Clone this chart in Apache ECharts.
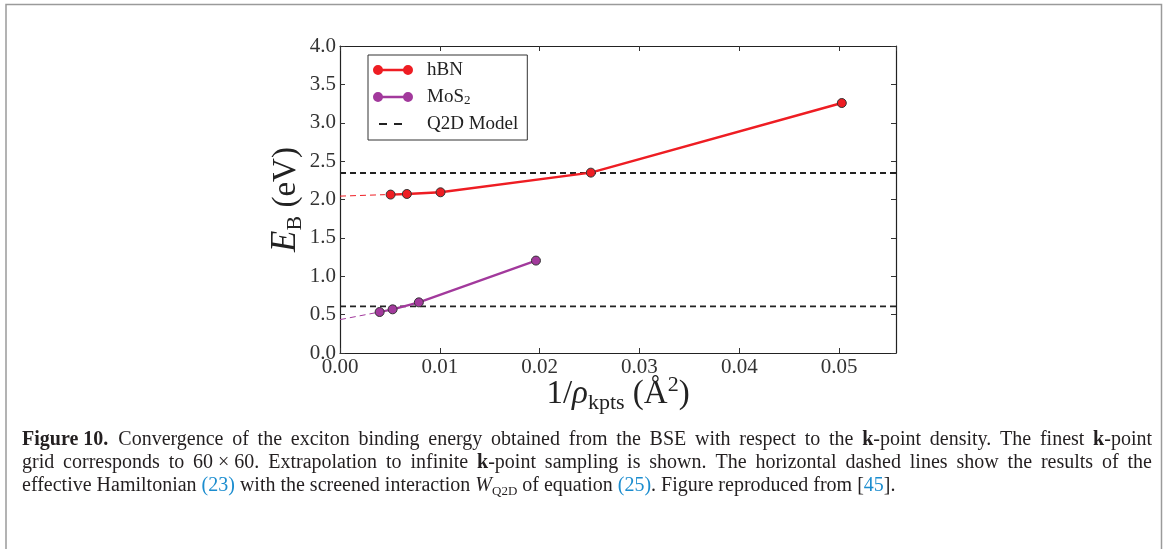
<!DOCTYPE html>
<html lang="en">
<head>
    <meta charset="UTF-8">
    <title>Figure 10</title>
    <style>
        html, body { margin: 0; padding: 0; background: #fff; }
        #main { width: 1168px; height: 549px; }
    </style>
</head>
<body>
<div id="main"></div>
<script src="https://cdn.jsdelivr.net/npm/echarts@6/dist/echarts.min.js"></script>
<script>
    // data
    const hbnX = [0.00507, 0.0067, 0.01007, 0.02513, 0.05027];
    const hbnY = [2.064, 2.072, 2.094, 2.350, 3.257];
    const mos2X = [0.00397, 0.00527, 0.0079, 0.01963];
    const mos2Y = [0.534, 0.569, 0.660, 1.204];
    // extrapolation to infinite k-point sampling
    const hbnFitX = [0, 0.0045];
    const hbnFitY = [2.044, 2.063];
    const mos2FitX = [0, 0.0036];
    const mos2FitY = [0.435, 0.525];
    // Q2D model levels
    const q2dX = [0, 0.0557];
    const q2dHbn = 2.345;
    const q2dMos2 = 0.608;

    const xTicks = [0, 0.01, 0.02, 0.03, 0.04, 0.05];

    const captions = [
        '{b|Figure\u00a010.}\u00a0\u00a0Convergence of the exciton binding energy obtained from the BSE with respect to the {b|k}-point density. The finest {b|k}-point',
        'grid corresponds to 60\u00a0×\u00a060. Extrapolation to infinite {b|k}-point sampling is shown. The horizontal dashed lines show the results of the',
        'effective Hamiltonian {l|(23)} with the screened interaction {i|W}{s|Q2D} of equation {l|(25)}. Figure reproduced from [{l|45}].'
    ];

    const pairs = (xs, ys) => xs.map((x, i) => [x, ys[i]]);
    const level = v => q2dX.map(x => [x, v]);

    const FONT = "'Liberation Serif', 'DejaVu Serif', serif";
    const RED = '#ee1d23';
    const PURPLE = '#a2399c';
    const DOT = 'path://M0,5A5,5,0,1,1,10,5A5,5,0,1,1,0,5Z M9,3.8H31V6.2H9Z M30,5A5,5,0,1,1,40,5A5,5,0,1,1,30,5Z';
    const DASH = 'path://M0,0M40,10M6,4H14V6H6Z M21,4H29V6H21Z';

    // caption: lines 1-2 justified between x0 and x1, last line left aligned
    const CAP_SIZE = 20;
    const capColor = '#231f20';
    const capRich = {
        b: { fontFamily: FONT, fontSize: CAP_SIZE, fontWeight: 'bold', fill: capColor },
        l: { fontFamily: FONT, fontSize: CAP_SIZE, fill: '#1c8dcf' },
        i: { fontFamily: FONT, fontSize: CAP_SIZE, fontStyle: 'italic', fill: capColor, lineHeight: 24 },
        s: { fontFamily: FONT, fontSize: 13, fill: capColor, verticalAlign: 'bottom', lineHeight: 13 }
    };
    const ctx = document.createElement('canvas').getContext('2d');
    function measure(word) {
        let w = 0;
        word.replace(/\{(\w)\|([^}]*)\}|([^{]+)/g, (m, k, t, plain) => {
            const text = plain !== undefined ? plain : t;
            let font = CAP_SIZE + 'px ' + FONT;
            if (k === 'b') font = 'bold ' + font;
            if (k === 'i') font = 'italic ' + font;
            if (k === 's') font = '13px ' + FONT;
            ctx.font = font;
            w += ctx.measureText(text).width;
            return m;
        });
        return w;
    }
    function captionLine(line, y, justify) {
        const x0 = 22, x1 = 1152;
        if (!justify) {
            return [{
                type: 'text', silent: true, left: x0, top: y,
                style: { text: line, rich: capRich, fontFamily: FONT, fontSize: CAP_SIZE, fill: capColor }
            }];
        }
        const words = line.split(/ +/);
        const widths = words.map(measure);
        const total = widths.reduce((a, b) => a + b, 0);
        const gap = (x1 - x0 - total) / (words.length - 1);
        let x = x0;
        return words.map((w, i) => {
            const el = {
                type: 'text', silent: true, x: x, y: y,
                style: { text: w, rich: capRich, fontFamily: FONT, fontSize: CAP_SIZE, fill: capColor, textVerticalAlign: 'top' }
            };
            x += widths[i] + gap;
            return el;
        });
    }

    const myChart = echarts.init(document.getElementById('main'));

    const axisCommon = {
        type: 'value',
        axisLine: { show: true, onZero: false, lineStyle: { color: '#222', width: 1.2 } },
        axisTick: { show: true, inside: true, length: 5, lineStyle: { color: '#333' } },
        splitLine: { show: false }
    };

    let captionEls = [];
    captions.forEach((c, i) => {
        captionEls = captionEls.concat(captionLine(c, 430 + i * 23, i < 2));
    });

    myChart.setOption({
        animation: false,
        textStyle: { fontFamily: FONT },
        grid: { left: 340, top: 46, width: 556, height: 307 },
        legend: {
            orient: 'vertical',
            left: 368,
            top: 55,
            padding: [5, 9, 6, 5],
            itemGap: 7,
            itemWidth: 40,
            itemHeight: 10,
            borderColor: '#333',
            borderWidth: 1,
            backgroundColor: '#fff',
            itemStyle: { borderWidth: 0 },
            data: [
                { name: 'hBN', icon: DOT },
                { name: 'MoS2', icon: DOT },
                { name: 'Q2D Model', icon: DASH }
            ],
            formatter: name => name === 'MoS2' ? 'MoS{s|2}' : name,
            textStyle: {
                fontFamily: FONT, fontSize: 19, color: '#222', lineHeight: 20,
                padding: [0, 0, 0, 9],
                rich: {
                    s: { fontFamily: FONT, fontSize: 13, color: '#222', verticalAlign: 'bottom', lineHeight: 12 }
                }
            }
        },
        xAxis: [
            Object.assign({}, axisCommon, {
                position: 'bottom',
                min: 0, max: q2dX[1], interval: 0.01,
                axisLabel: {
                    color: '#333', fontFamily: FONT, fontSize: 21, margin: 4,
                    showMaxLabel: false,
                    formatter: v => xTicks.some(t => Math.abs(t - v) < 1e-9) ? v.toFixed(2) : ''
                },
                name: '1/{i|ρ}{s|kpts} (Å{p|2})',
                nameLocation: 'middle',
                nameGap: 21,
                nameMoveOverlap: false,
                nameTextStyle: {
                    fontFamily: FONT, fontSize: 33, color: '#222', lineHeight: 40,
                    rich: {
                        i: { fontFamily: FONT, fontSize: 33, fontStyle: 'italic', color: '#222', lineHeight: 40 },
                        s: { fontFamily: FONT, fontSize: 22, color: '#222', verticalAlign: 'bottom', lineHeight: 22 },
                        p: { fontFamily: FONT, fontSize: 22, color: '#222', verticalAlign: 'top', lineHeight: 20 }
                    }
                }
            }),
            Object.assign({}, axisCommon, {
                position: 'top',
                min: 0, max: q2dX[1], interval: 0.01,
                axisLabel: { show: false }
            })
        ],
        yAxis: [
            Object.assign({}, axisCommon, {
                position: 'left',
                min: 0, max: 4, interval: 0.5,
                axisLabel: {
                    color: '#333', fontFamily: FONT, fontSize: 21, margin: 4,
                    formatter: v => v.toFixed(1)
                },
                name: '{i|E}{s|B} (eV)',
                nameLocation: 'middle',
                nameRotate: 90,
                nameGap: 30,
                nameTextStyle: {
                    fontFamily: FONT, fontSize: 33, color: '#222', lineHeight: 40,
                    rich: {
                        i: { fontFamily: FONT, fontSize: 35, fontStyle: 'italic', color: '#222', lineHeight: 40 },
                        s: { fontFamily: FONT, fontSize: 22, color: '#222', verticalAlign: 'bottom', lineHeight: 22 }
                    }
                }
            }),
            Object.assign({}, axisCommon, {
                position: 'right',
                min: 0, max: 4, interval: 0.5,
                axisLabel: { show: false }
            })
        ],
        series: [
            {
                name: 'Q2D Model', type: 'line', symbol: 'none', z: 1,
                data: level(q2dHbn),
                lineStyle: { color: '#222', width: 1.8, type: [6, 4] },
                itemStyle: { color: '#222' }
            },
            {
                name: 'Q2D Model', type: 'line', symbol: 'none', z: 1,
                data: level(q2dMos2),
                lineStyle: { color: '#222', width: 1.8, type: [6, 4] },
                itemStyle: { color: '#222' }
            },
            {
                name: 'hBN fit', type: 'line', symbol: 'none', z: 2,
                data: pairs(hbnFitX, hbnFitY),
                lineStyle: { color: RED, width: 1, type: [6, 4] }
            },
            {
                name: 'MoS2 fit', type: 'line', symbol: 'none', z: 2,
                data: pairs(mos2FitX, mos2FitY),
                lineStyle: { color: PURPLE, width: 1, type: [6, 4] }
            },
            {
                name: 'hBN', type: 'line', z: 3,
                data: pairs(hbnX, hbnY),
                symbol: 'circle', symbolSize: 9,
                lineStyle: { color: RED, width: 2.4 },
                itemStyle: { color: RED, borderColor: '#333', borderWidth: 1 }
            },
            {
                name: 'MoS2', type: 'line', z: 3,
                data: pairs(mos2X, mos2Y),
                symbol: 'circle', symbolSize: 9,
                lineStyle: { color: PURPLE, width: 2.2 },
                itemStyle: { color: PURPLE, borderColor: '#333', borderWidth: 1 }
            }
        ],
        graphic: [
            {
                type: 'rect', silent: true, z: -10,
                shape: { x: 6, y: 4.5, width: 1155.5, height: 560 },
                style: { fill: 'none', stroke: '#9a9a9a', lineWidth: 1.5 }
            }
        ].concat(captionEls)
    });
</script>
</body>
</html>
